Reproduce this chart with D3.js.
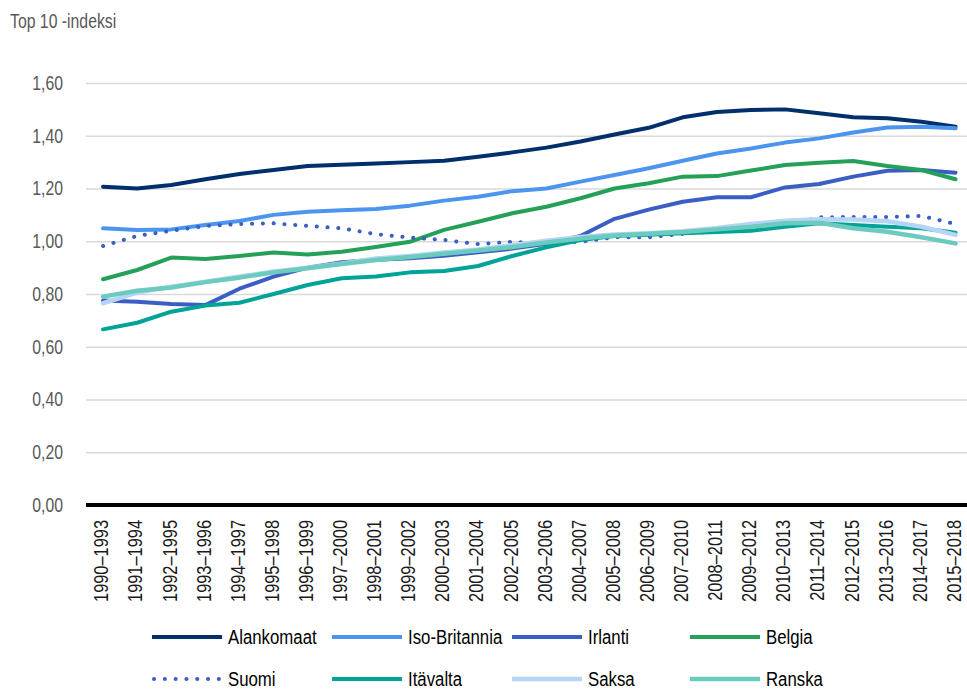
<!DOCTYPE html>
<html>
<head>
<meta charset="utf-8">
<script src="https://cdn.jsdelivr.net/npm/d3@7"></script>
<style>
    body { margin: 0; background: #fff; }
    text { font-family: "Liberation Sans", Arial, sans-serif; }
</style>
</head>
<body>
<svg id="chart" width="967" height="692"></svg>
<script>
// periods on the x axis
const categories = [
    '1990–1993', '1991–1994', '1992–1995', '1993–1996', '1994–1997', '1995–1998',
    '1996–1999', '1997–2000', '1998–2001', '1999–2002', '2000–2003', '2001–2004',
    '2002–2005', '2003–2006', '2004–2007', '2005–2008', '2006–2009', '2007–2010',
    '2008–2011', '2009–2012', '2010–2013', '2011–2014', '2012–2015', '2013–2016',
    '2014–2017', '2015–2018'
];

const yTicks = [0, 0.2, 0.4, 0.6, 0.8, 1.0, 1.2, 1.4, 1.6];

// Top 10 index per country
const alankomaat = [1.207, 1.200, 1.213, 1.235, 1.255, 1.270, 1.285, 1.290, 1.295, 1.300, 1.305, 1.320, 1.337,
    1.355, 1.378, 1.405, 1.430, 1.470, 1.490, 1.498, 1.500, 1.485, 1.470, 1.466, 1.453, 1.434];
const isoBritannia = [1.049, 1.043, 1.045, 1.062, 1.077, 1.100, 1.112, 1.118, 1.122, 1.135, 1.154, 1.169, 1.190,
    1.200, 1.226, 1.251, 1.277, 1.305, 1.333, 1.352, 1.374, 1.390, 1.412, 1.431, 1.434, 1.428];
const irlanti = [0.775, 0.771, 0.762, 0.758, 0.820, 0.866, 0.900, 0.920, 0.930, 0.936, 0.945, 0.958, 0.972,
    0.990, 1.020, 1.085, 1.120, 1.150, 1.167, 1.167, 1.204, 1.217, 1.245, 1.267, 1.270, 1.260];
const belgia = [0.856, 0.891, 0.938, 0.933, 0.944, 0.957, 0.950, 0.960, 0.978, 0.998, 1.043, 1.074, 1.106,
    1.131, 1.163, 1.200, 1.220, 1.245, 1.247, 1.268, 1.289, 1.298, 1.304, 1.285, 1.270, 1.235];
const suomi = [0.982, 1.020, 1.040, 1.058, 1.065, 1.068, 1.058, 1.049, 1.027, 1.014, 1.005, 0.989, 0.998,
    0.992, 0.998, 1.015, 1.015, 1.028, 1.038, 1.047, 1.059, 1.091, 1.092, 1.092, 1.096, 1.065];
const itavalta = [0.666, 0.691, 0.733, 0.756, 0.767, 0.800, 0.834, 0.860, 0.866, 0.882, 0.887, 0.906, 0.944,
    0.977, 1.005, 1.020, 1.025, 1.030, 1.035, 1.040, 1.055, 1.068, 1.062, 1.055, 1.049, 1.032];
const saksa = [0.765, 0.805, 0.828, 0.847, 0.866, 0.885, 0.900, 0.916, 0.935, 0.944, 0.957, 0.969, 0.985,
    1.002, 1.016, 1.026, 1.030, 1.038, 1.050, 1.065, 1.078, 1.083, 1.082, 1.076, 1.055, 1.024];
const ranska = [0.790, 0.812, 0.825, 0.845, 0.862, 0.882, 0.898, 0.914, 0.929, 0.940, 0.953, 0.965, 0.978,
    0.995, 1.010, 1.022, 1.028, 1.035, 1.045, 1.055, 1.068, 1.070, 1.049, 1.036, 1.015, 0.992];

const seriesNames = ['Alankomaat', 'Iso-Britannia', 'Irlanti', 'Belgia', 'Suomi', 'Itävalta', 'Saksa', 'Ranska'];
const seriesValues = [alankomaat, isoBritannia, irlanti, belgia, suomi, itavalta, saksa, ranska];
const seriesColors = ['#002f6c', '#4b95ef', '#3a5ec4', '#25a059', '#3a5ec4', '#00a397', '#b6d5f6', '#6ccbbf'];

// the original uses a condensed face; squeeze Liberation Sans horizontally
const NARROW = 0.79;

class LineChart {

    constructor() {
        this.svg = d3.select('#chart');
        this.MARGIN = { left: 86, top: 83, bottom: 505 };
        this.STEP = 34.1;

        this.series = seriesNames.map((name, i) => ({
            name: name,
            color: seriesColors[i],
            dotted: name === 'Suomi',
            width: (name === 'Saksa' || name === 'Ranska') ? 4.5 : 4,
            values: seriesValues[i]
        }));

        this.scaleX = d3.scaleBand()
            .domain(categories)
            .range([this.MARGIN.left, this.MARGIN.left + this.STEP * categories.length])
            .padding(0);

        this.scaleY = d3.scaleLinear()
            .domain([0, 1.6])
            .range([this.MARGIN.bottom, this.MARGIN.top]);

        this.drawAxes();
        this.drawLines();
        this.drawLegend();
    }

    drawAxes() {
        let fmt = d => d3.format('.2f')(d).replace('.', ',');

        this.svg.append('text')
            .attr('transform', `translate(10,28) scale(${NARROW},1)`)
            .attr('fill', '#595959')
            .style('font-size', '20px')
            .text('Top 10 -indeksi');

        let yAxis = d3.axisLeft(this.scaleY)
            .tickValues(yTicks)
            .tickSize(-(967 - this.MARGIN.left))
            .tickFormat(fmt);

        let gy = this.svg.append('g')
            .attr('transform', `translate(${this.MARGIN.left},0)`)
            .call(yAxis);
        gy.select('.domain').remove();
        gy.selectAll('.tick line')
            .attr('stroke', '#d9d9d9')
            .attr('stroke-width', 1.5);
        gy.selectAll('.tick text')
            .attr('x', 0)
            .attr('transform', `translate(-23,0) scale(${NARROW},1)`)
            .attr('fill', '#595959')
            .style('font-size', '20px');

        // zero line
        this.svg.append('line')
            .attr('x1', this.MARGIN.left)
            .attr('x2', 967)
            .attr('y1', this.scaleY(0))
            .attr('y2', this.scaleY(0))
            .attr('stroke', '#000')
            .attr('stroke-width', 4);

        let xAxis = d3.axisBottom(this.scaleX).tickSize(0).tickPadding(0);
        let gx = this.svg.append('g')
            .attr('transform', `translate(0,${this.scaleY(0)})`)
            .call(xAxis);
        gx.select('.domain').remove();
        gx.selectAll('.tick text')
            .attr('transform', `translate(0,15) rotate(-90) scale(${NARROW - 0.01},1)`)
            .attr('text-anchor', 'end')
            .attr('dy', '0.25em')
            .attr('y', 0)
            .attr('fill', '#1a1a1a')
            .style('font-size', '21px');
    }

    drawLines() {
        let x = c => this.scaleX(c) + this.scaleX.bandwidth() / 2;
        let line = d3.line()
            .x((d, i) => x(categories[i]))
            .y(d => this.scaleY(d));

        this.svg.append('g')
            .selectAll('path')
            .data(this.series)
            .join('path')
            .attr('d', d => line(d.values))
            .attr('fill', 'none')
            .attr('stroke', d => d.color)
            .attr('stroke-width', d => d.width)
            .attr('stroke-linejoin', 'round')
            .attr('stroke-linecap', 'round')
            .attr('stroke-dasharray', d => d.dotted ? '0.1 10.7' : null);
    }

    drawLegend() {
        let colX = [152, 332, 512, 690];
        let rowY = [637, 679];

        let items = this.svg.append('g')
            .selectAll('g')
            .data(this.series)
            .join('g')
            .attr('transform', (d, i) => `translate(${colX[i % 4]},${rowY[Math.floor(i / 4)]})`);

        items.append('line')
            .attr('x1', d => d.dotted ? 2 : 0)
            .attr('x2', 70)
            .attr('stroke', d => d.color)
            .attr('stroke-width', d => d.width)
            .attr('stroke-linecap', d => d.dotted ? 'round' : 'butt')
            .attr('stroke-dasharray', d => d.dotted ? '0.1 10.7' : null);

        items.append('text')
            .attr('transform', `translate(76,0) scale(0.8,1)`)
            .attr('dy', '0.35em')
            .attr('fill', '#000')
            .style('font-size', '21px')
            .text(d => d.name);
    }
}

new LineChart();
</script>
</body>
</html>
